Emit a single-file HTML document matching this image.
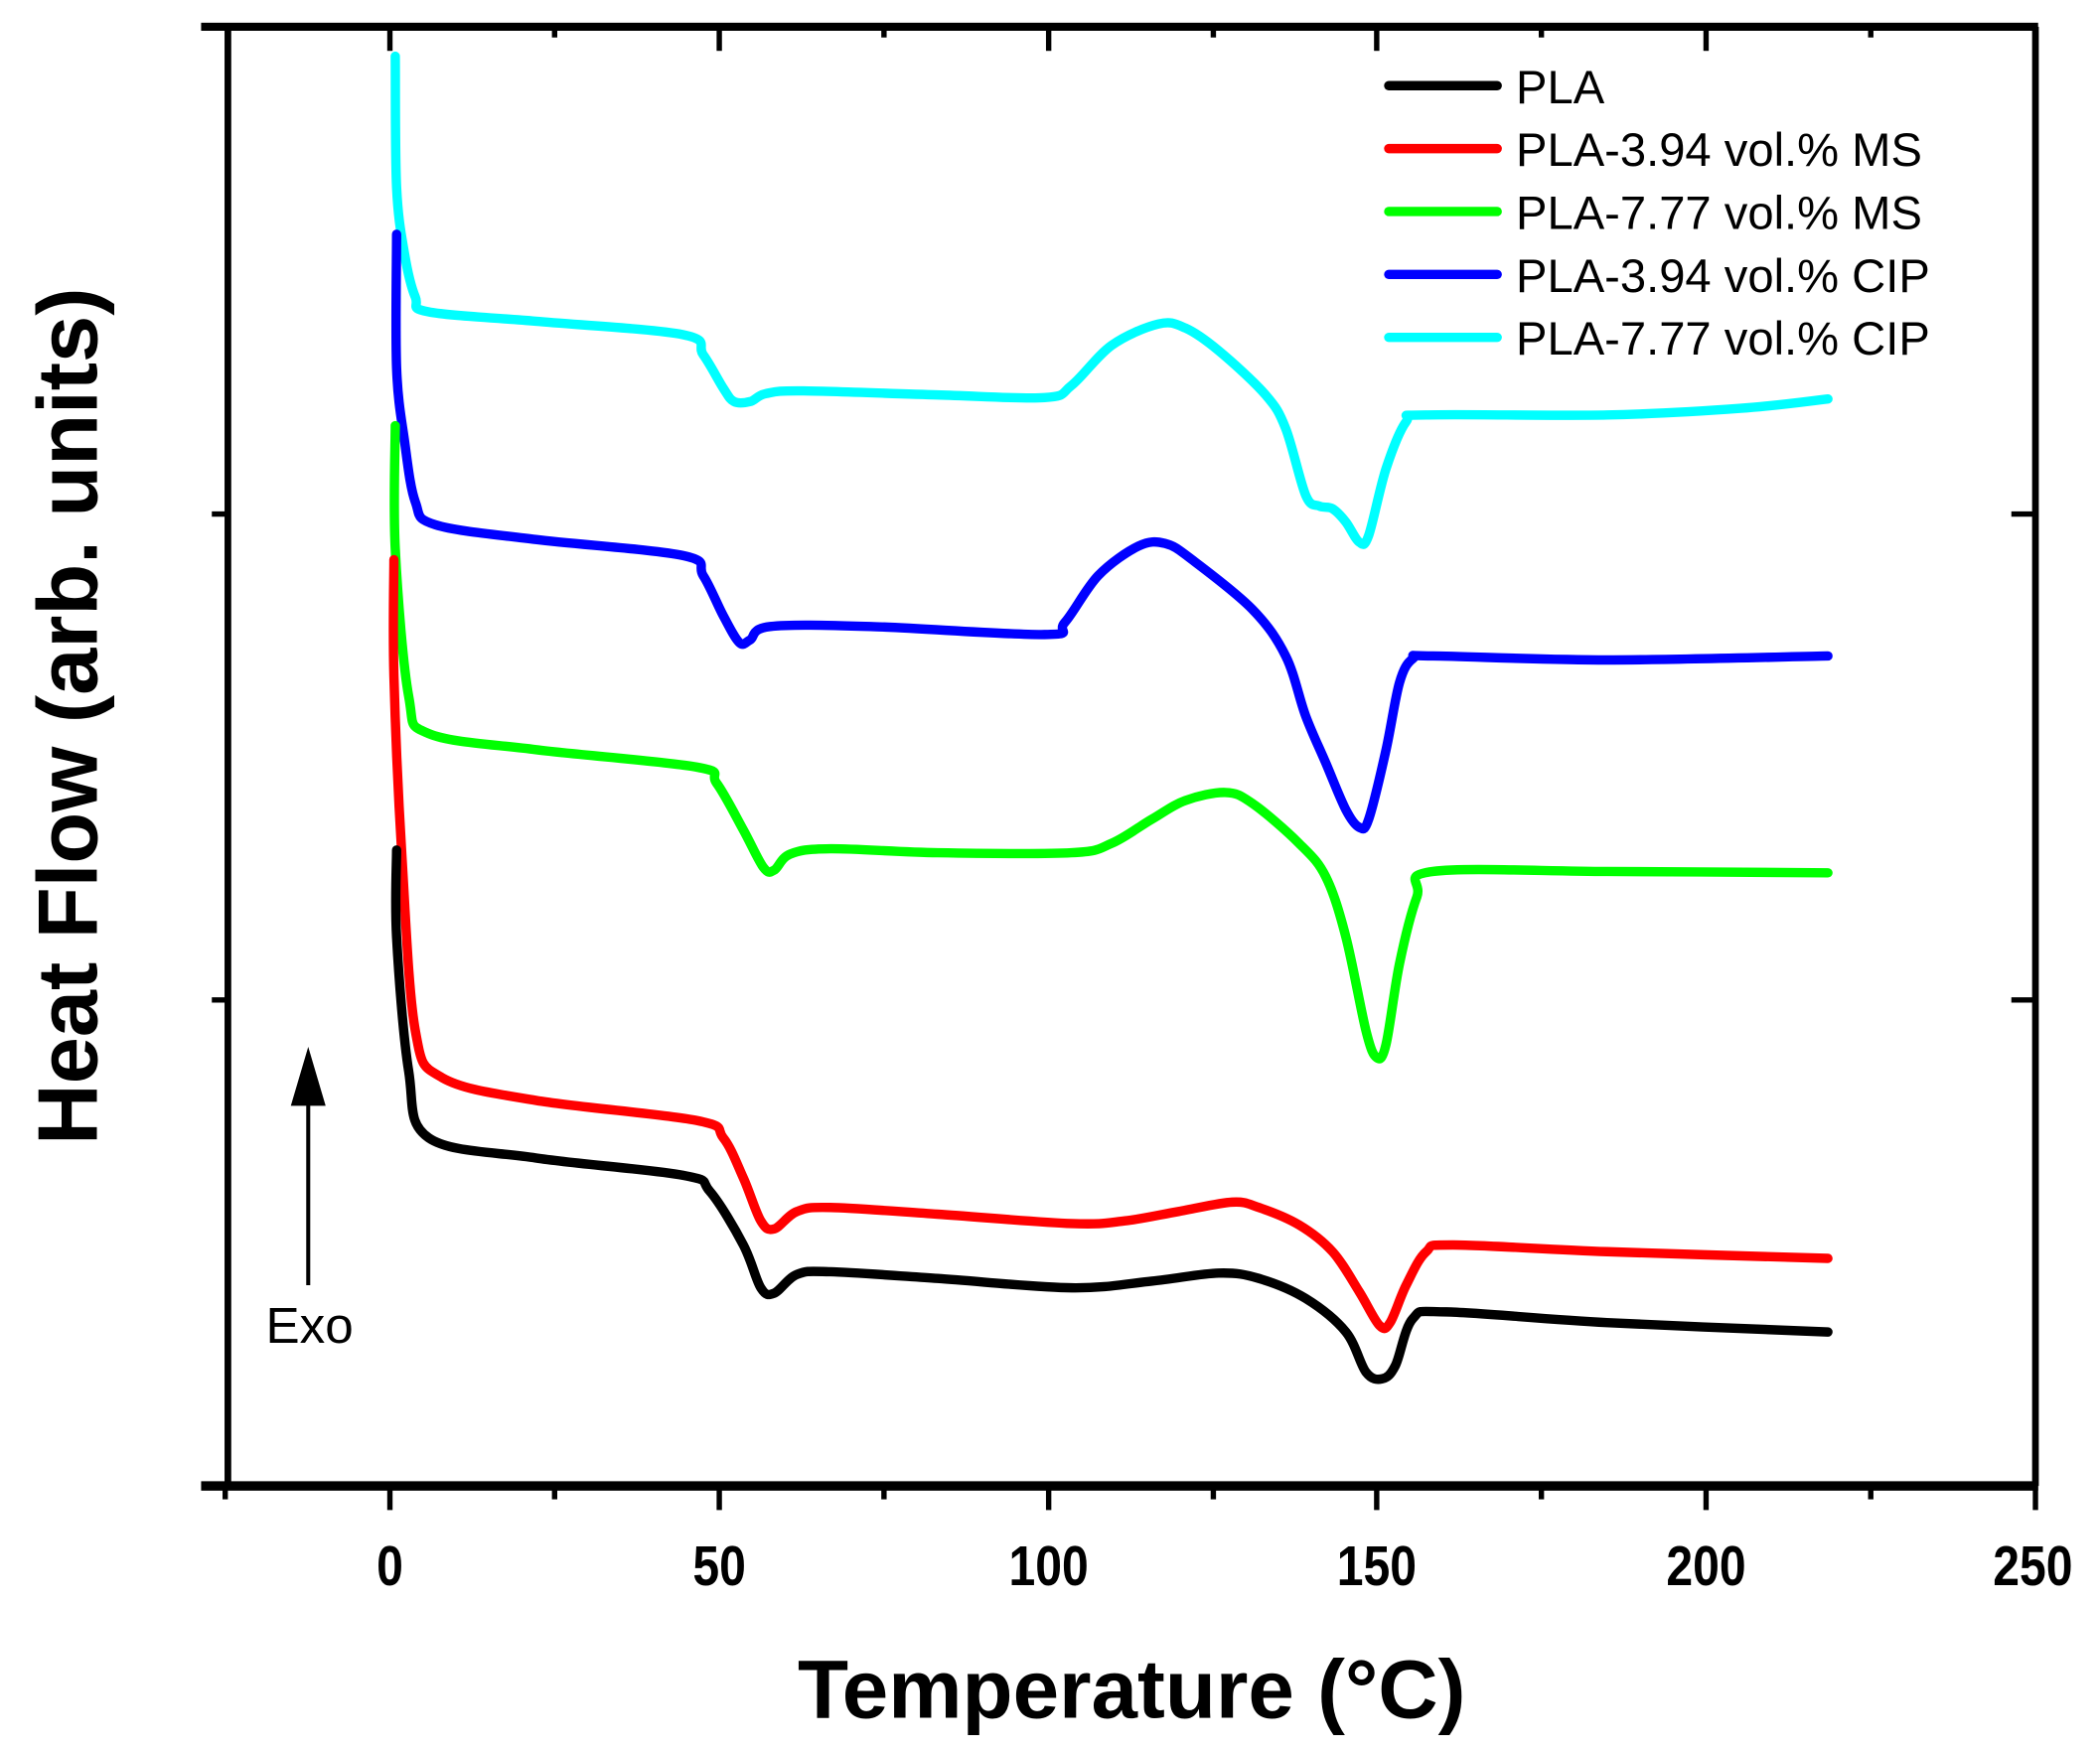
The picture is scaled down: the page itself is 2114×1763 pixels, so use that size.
<!DOCTYPE html>
<html><head><meta charset="utf-8"><style>
html,body{margin:0;padding:0;background:#fff;}
svg{display:block;}
text{font-family:"Liberation Sans",Arial,sans-serif;}
</style></head><body>
<svg width="2114" height="1763" viewBox="0 0 1568 1308" xmlns="http://www.w3.org/2000/svg">
<rect width="1568" height="1308" fill="#fff"/>
<g fill="none" stroke-width="7" stroke-linejoin="round" stroke-linecap="round">
<path class="c" stroke="#00ffff" data-p="295,42 296,140 302,190 310,222 320,233 400,240 510,250 525,265 540,290 548,300 560,300 572,294 600,292 700,295 780,297 800,288 830,258 865,242 885,245 910,262 945,295 960,320 975,370 985,378 995,380 1005,390 1015,405 1022,400 1035,350 1050,315 1065,310 1200,310 1300,305 1365,298"/>
<path class="c" stroke="#0000ff" data-p="296,175 296,275 302,330 310,375 325,392 400,403 510,415 525,430 540,460 552,480 560,478 575,468 650,468 780,474 795,465 820,430 850,408 870,406 890,418 935,455 960,490 975,535 990,570 1005,605 1015,618 1022,612 1035,560 1045,510 1055,492 1070,490 1200,493 1365,490"/>
<path class="c" stroke="#00ff00" data-p="295,318 295,410 305,520 320,548 400,560 520,573 535,585 555,620 570,648 578,650 590,638 620,634 700,637 800,637 830,630 860,612 885,598 915,592 935,600 970,630 990,655 1005,700 1020,770 1028,790 1035,780 1045,720 1058,670 1070,651 1200,651 1365,652"/>
<path class="c" stroke="#ff0000" data-p="294,418 294,505 300,640 310,770 330,805 400,822 520,837 540,850 555,880 568,912 578,918 595,905 620,902 700,907 800,914 840,912 880,905 920,898 940,902 970,915 995,935 1015,965 1030,990 1038,988 1050,960 1065,935 1085,930 1200,935 1365,940"/>
<path class="c" stroke="#000" data-p="296,635 296,700 305,800 320,850 400,865 510,878 530,890 555,930 568,962 578,966 595,952 620,950 700,955 800,962 860,957 910,951 940,955 975,970 1005,995 1020,1025 1032,1030 1042,1020 1055,985 1080,980 1200,988 1365,995"/>
</g>
<g stroke="#000" fill="none">
<line x1="170" y1="20" x2="170" y2="1110" stroke-width="5"/>
<line x1="1520" y1="20" x2="1520" y2="1110" stroke-width="5"/>
<line x1="150" y1="20" x2="1522" y2="20" stroke-width="6"/>
<line x1="150" y1="1110" x2="1522" y2="1110" stroke-width="7"/>
<g stroke-width="4">
<line x1="291" y1="1110" x2="291" y2="1128"/><line x1="537" y1="1110" x2="537" y2="1128"/><line x1="783" y1="1110" x2="783" y2="1128"/><line x1="1028" y1="1110" x2="1028" y2="1128"/><line x1="1274" y1="1110" x2="1274" y2="1128"/><line x1="1520" y1="1110" x2="1520" y2="1128"/>
<line x1="168" y1="1110" x2="168" y2="1120"/><line x1="414" y1="1110" x2="414" y2="1120"/><line x1="660" y1="1110" x2="660" y2="1120"/><line x1="906" y1="1110" x2="906" y2="1120"/><line x1="1151" y1="1110" x2="1151" y2="1120"/><line x1="1397" y1="1110" x2="1397" y2="1120"/>
<line x1="291" y1="20" x2="291" y2="38"/><line x1="537" y1="20" x2="537" y2="38"/><line x1="783" y1="20" x2="783" y2="38"/><line x1="1028" y1="20" x2="1028" y2="38"/><line x1="1274" y1="20" x2="1274" y2="38"/>
<line x1="414" y1="20" x2="414" y2="28"/><line x1="660" y1="20" x2="660" y2="28"/><line x1="906" y1="20" x2="906" y2="28"/><line x1="1151" y1="20" x2="1151" y2="28"/><line x1="1397" y1="20" x2="1397" y2="28"/>
<line x1="158" y1="384" x2="170" y2="384"/><line x1="158" y1="747" x2="170" y2="747"/><line x1="158" y1="1110" x2="170" y2="1110"/>
<line x1="1502" y1="384" x2="1520" y2="384"/><line x1="1502" y1="747" x2="1520" y2="747"/>
</g>
</g>
<g font-weight="bold" font-size="42" text-anchor="middle" fill="#000">
<text transform="translate(291,1184) scale(0.85,1)">0</text>
<text transform="translate(537,1184) scale(0.85,1)">50</text>
<text transform="translate(783,1184) scale(0.85,1)">100</text>
<text transform="translate(1028,1184) scale(0.85,1)">150</text>
<text transform="translate(1274,1184) scale(0.85,1)">200</text>
<text transform="translate(1518,1184) scale(0.85,1)">250</text>
</g>
<text x="845" y="1283" font-weight="bold" font-size="62" text-anchor="middle">Temperature (°C)</text>
<text transform="translate(72,535) rotate(-90)" font-weight="bold" font-size="63" text-anchor="middle">Heat Flow (arb. units)</text>
<line x1="230" y1="960" x2="230" y2="820" stroke="#000" stroke-width="3"/>
<polygon points="230,782 217,826 243,826" fill="#000"/>
<text x="231" y="1003" font-size="38" text-anchor="middle">Exo</text>
<g stroke-width="7" stroke-linecap="round">
<line x1="1037" y1="64" x2="1118" y2="64" stroke="#000"/>
<line x1="1037" y1="111" x2="1118" y2="111" stroke="#ff0000"/>
<line x1="1037" y1="158" x2="1118" y2="158" stroke="#00ff00"/>
<line x1="1037" y1="205" x2="1118" y2="205" stroke="#0000ff"/>
<line x1="1037" y1="252" x2="1118" y2="252" stroke="#00ffff"/>
</g>
<g font-size="35" fill="#000">
<text x="1132" y="77">PLA</text>
<text x="1132" y="124">PLA-3.94 vol.% MS</text>
<text x="1132" y="171">PLA-7.77 vol.% MS</text>
<text x="1132" y="218">PLA-3.94 vol.% CIP</text>
<text x="1132" y="265">PLA-7.77 vol.% CIP</text>
</g>
</svg>
<script>
document.querySelectorAll('path.c').forEach(function(el){
  var p=el.getAttribute('data-p').trim().split(/\s+/).map(function(s){return s.split(',').map(Number);});
  var d='M'+p[0][0]+','+p[0][1];
  for(var i=0;i<p.length-1;i++){
    var p0=p[i-1]||p[i],p1=p[i],p2=p[i+1],p3=p[i+2]||p2;
    var t=0.5/3;
    var c1x=p1[0]+(p2[0]-p0[0])*t,c1y=p1[1]+(p2[1]-p0[1])*t;
    var c2x=p2[0]-(p3[0]-p1[0])*t,c2y=p2[1]-(p3[1]-p1[1])*t;
    d+=' C'+c1x.toFixed(1)+','+c1y.toFixed(1)+' '+c2x.toFixed(1)+','+c2y.toFixed(1)+' '+p2[0]+','+p2[1];
  }
  el.setAttribute('d',d);
  el.removeAttribute('data-p');
});
</script>
</body></html>
